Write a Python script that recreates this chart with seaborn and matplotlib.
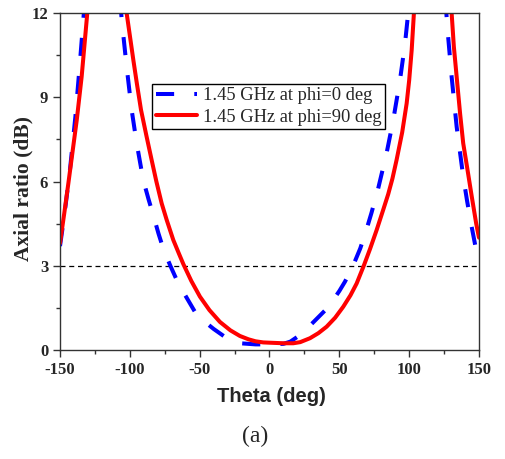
import numpy as np
import matplotlib
matplotlib.use("Agg")
import matplotlib.pyplot as plt
import seaborn as sns
from matplotlib.ticker import MultipleLocator

# axial ratio (values above 12 dB fall outside the axes)
theta_phi0 = [-150, -147, -144.5, -142.8, -139, -135.7, -132.6, -129, -120, -112,
              -107.5, -105.8, -102.3, -98.7, -95.1, -90.4, -86.5, -83.2, -79.5, -76,
              -71, -65.3, -58, -53.4, -46.2, -40, -32, -21, -10, 0, 10, 15,
              20, 25, 30, 35, 40, 44.5, 50, 54, 57.6, 60, 65, 69.5, 73, 77.8, 83.8,
              88.6, 93.4, 97, 99.3, 102, 110, 120, 125, 127.3, 130.4, 134, 138.7,
              141.5, 144.7, 148, 150]
ar_phi0 = [3.7, 4.75, 5.75, 6.45, 8.3, 10.25, 12.2, 14.8, 18.0, 16.0,
           12.8, 11.75, 10.09, 8.55, 7.36, 6.05, 5.35, 4.8, 4.15, 3.6,
           3.0, 2.37, 1.75, 1.36, 1.0, 0.75, 0.47, 0.24, 0.2, 0.2, 0.22, 0.3,
           0.47, 0.68, 0.92, 1.17, 1.42, 1.7, 2.1, 2.43, 2.78, 3.02, 3.62, 4.3, 4.88, 5.75, 7.0,
           8.19, 9.6, 10.9, 12.0, 13.8, 18.0, 16.0, 13.2, 11.5, 9.73, 7.95, 6.17,
           5.3, 4.4, 3.55, 3.15]

theta_phi90 = [-150, -147, -144, -138, -134.5, -130.9, -128, -120, -110,
               -105, -102.3, -100, -97.5, -95, -92, -88, -84.4, -81, -77.2, -73.6,
               -68.9, -65, -61.7, -56, -49.8, -43, -35.5, -28, -21.2, -15, -10, -4.5, 0,
               5, 10, 17, 22, 29, 35, 40.9, 47, 52.8, 58, 62.4, 67.5, 72, 76.7,
               81.4, 85, 88, 91, 95, 98.2, 100, 101.8, 103.4, 106, 115, 125, 128,
               130.4, 132, 134, 136.5, 138.7, 141.5, 144.7, 148, 150]
ar_phi90 = [3.8, 4.85, 5.94, 8.19, 9.73, 11.75, 13.5, 18.0, 17.0,
            13.2, 12.0, 11.2, 10.33, 9.5, 8.55, 7.6, 6.77, 6.0, 5.22, 4.63,
            3.92, 3.45, 3.06, 2.46, 1.9, 1.42, 1.0, 0.7, 0.5, 0.38, 0.31, 0.27, 0.26,
            0.25, 0.24, 0.24, 0.28, 0.42, 0.6, 0.83, 1.15, 1.54, 1.95, 2.37, 3.0, 3.6, 4.27,
            4.99, 5.55, 6.1, 6.77, 7.75, 8.78, 9.6, 10.68, 12.0, 13.5, 18.0, 17.0, 13.8,
            12.0, 10.8, 9.73, 8.4, 7.36, 6.5, 5.5, 4.5, 4.0]

labels = ["1.45 GHz at phi=0 deg", "1.45 GHz at phi=90 deg"]

sns.set_style("ticks")
plt.rcParams["font.family"] = ["Liberation Serif", "DejaVu Serif"]
plt.rcParams["axes.unicode_minus"] = False

fig = plt.figure(figsize=(5.06, 4.59), dpi=100)
ax = fig.add_axes([60 / 506, 1 - 350 / 459, 419 / 506, 337 / 459])

sns.lineplot(x=theta_phi0, y=ar_phi0, ax=ax, color="#0000ff", linewidth=2.9,
             linestyle=(0, (4.5, 5.0)), label=labels[0])
sns.lineplot(x=theta_phi90, y=ar_phi90, ax=ax, color="#ff0000", linewidth=2.9,
             label=labels[1])
ax.axhline(3, color="black", linewidth=0.9, linestyle=(0, (4, 3)), zorder=1)

ax.set_xlim(-150, 150)
ax.set_ylim(0, 12)
ax.xaxis.set_major_locator(MultipleLocator(50))
ax.xaxis.set_minor_locator(MultipleLocator(25))
ax.yaxis.set_major_locator(MultipleLocator(3))
ax.yaxis.set_minor_locator(MultipleLocator(1.5))
ax.tick_params(which="major", direction="out", length=5, width=1, color="#333333", pad=3.5)
ax.tick_params(which="minor", direction="out", length=3, width=1, color="#333333")
for lab in ax.get_xticklabels() + ax.get_yticklabels():
    lab.set_fontweight("bold")
    lab.set_fontsize(12)
for sp in ax.spines.values():
    sp.set_visible(True)
    sp.set_color("#333333")
    sp.set_linewidth(1)

ax.set_xlabel("Theta (deg)", fontsize=14.5, fontweight="bold",
              family=["Liberation Sans", "DejaVu Sans"], va="top")
ax.xaxis.set_label_coords(0.505, -0.11)
ax.set_ylabel("Axial ratio (dB)", fontsize=15.5, fontweight="bold")
ax.yaxis.set_label_coords(-0.064, 0.48)

leg = ax.legend(loc="upper left", bbox_to_anchor=(0.22, 0.79), fontsize=13.3,
                frameon=True, fancybox=False, edgecolor="black", framealpha=1,
                borderpad=0.2, labelspacing=0.22, handlelength=2.2,
                handletextpad=0.35, borderaxespad=0)
leg.get_frame().set_linewidth(1)

fig.text(255 / 506, 1 - 436 / 459, "(a)", fontsize=17, ha="center", va="center")

fig.savefig("out.png", dpi=100)
